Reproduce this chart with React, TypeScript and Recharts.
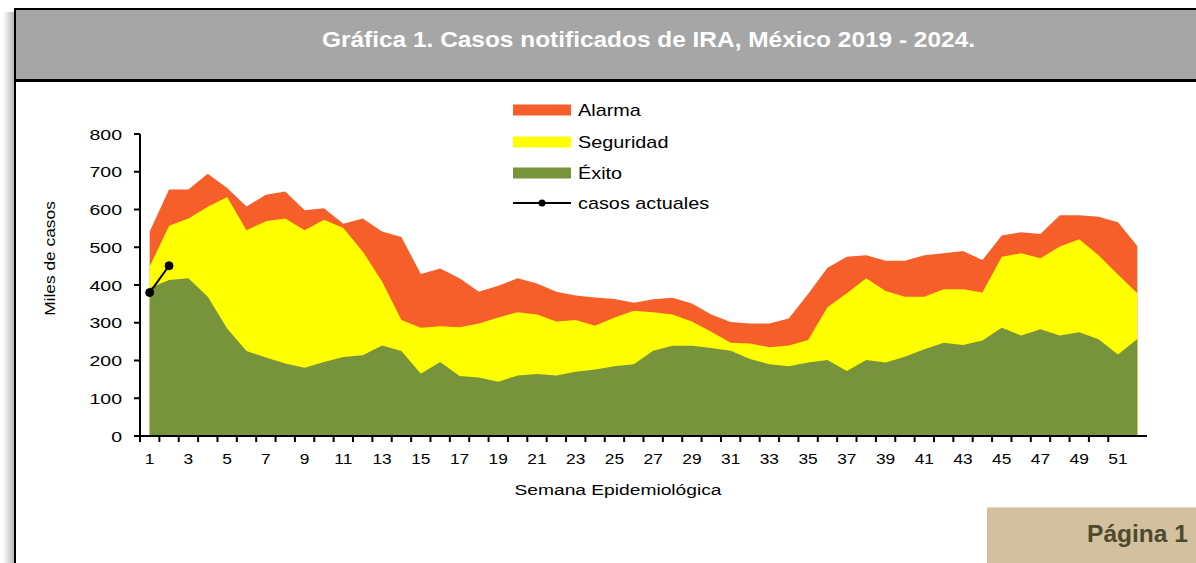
import React from 'react';
import { ComposedChart, Area, Line, XAxis, YAxis, Legend } from 'recharts';

// ---------- data ----------
const weeks = [1,2,3,4,5,6,7,8,9,10,11,12,13,14,15,16,17,18,19,20,21,22,23,24,25,26,27,28,29,30,31,32,33,34,35,36,37,38,39,40,41,42,43,44,45,46,47,48,49,50,51,52];

// upper limit of each zone (miles de casos)
const alarma = [542,653,653,695,657,608,639,648,598,603,562,576,542,527,429,444,418,382,398,418,404,382,372,367,363,353,362,366,351,322,302,298,298,311,376,446,475,479,464,464,479,484,490,466,531,540,535,585,585,581,566,503];
const seguridad = [449,557,576,607,633,545,569,576,545,573,551,489,409,307,287,291,288,298,314,328,322,303,307,292,314,332,328,322,303,276,247,245,235,240,254,341,378,418,384,369,369,389,389,380,475,484,471,502,521,479,428,378];
const exito = [392,413,418,369,285,225,208,192,181,196,209,214,240,225,165,196,159,155,144,160,164,160,170,176,185,190,226,239,239,233,226,204,190,185,195,201,172,201,195,210,230,247,241,253,287,266,283,266,275,256,216,257];
const casosActuales = [380,451];

const yTicks = [0,100,200,300,400,500,600,700,800];
const xLabelTicks = [1,3,5,7,9,11,13,15,17,19,21,23,25,27,29,31,33,35,37,39,41,43,45,47,49,51];

const legendOrder = ['alarma', 'seguridad', 'exito', 'actuales'];
const seriesNames = { alarma: 'Alarma', seguridad: 'Seguridad', exito: 'Éxito', actuales: 'casos actuales' };
const title = 'Gráfica 1. Casos notificados de IRA, México 2019 - 2024.';
const yTitle = 'Miles de casos';
const xTitle = 'Semana Epidemiológica';
const pageLabel = 'Página 1';

const data = weeks.map((w, i) => ({
  week: w,
  alarma: alarma[i],
  seguridad: seguridad[i],
  exito: exito[i],
  actuales: i < casosActuales.length ? casosActuales[i] : null,
}));

const boundaryTicks = weeks.slice(0, 51).map((w) => w - 0.5);
const xTicks = [...boundaryTicks, ...xLabelTicks].sort((a, b) => a - b);

// ---------- style ----------
const FONT = '"Liberation Sans", Arial, sans-serif';
const C_ALARMA = '#F65F2A';
const C_SEG = '#FFFF00';
const C_EXITO = '#77933C';
const SX = 1.24;

const XTick = (props: any) => {
  const { x, y, payload } = props;
  const v = payload.value;
  if (v % 1 !== 0) {
    return <line x1={x} x2={x} y1={y} y2={y + 6} stroke="#000" strokeWidth={2} />;
  }
  return (
    <text transform={`translate(${x},${y + 28}) scale(${SX},1)`} textAnchor="middle" fontSize={14} fontFamily={FONT} fill="#000">
      {v}
    </text>
  );
};

const YTick = (props: any) => {
  const { x, y, payload } = props;
  return (
    <g>
      <line x1={x - 6} x2={x} y1={y} y2={y} stroke="#000" strokeWidth={2} />
      <text transform={`translate(${x - 18},${y + 5.5}) scale(1.3,1)`} textAnchor="end" fontSize={15} fontFamily={FONT} fill="#000">
        {payload.value}
      </text>
    </g>
  );
};

const LegendContent = (props: any) => {
  const payload = (props.payload || []).slice().sort(
    (a: any, b: any) => legendOrder.indexOf(a.dataKey) - legendOrder.indexOf(b.dataKey)
  );
  const rowsY = [15, 47, 78, 108];
  return (
    <svg width={240} height={125} style={{ display: 'block' }}>
      {payload.map((p: any, i: number) => {
        const cy = rowsY[i];
        const isLine = p.dataKey === 'actuales';
        return (
          <g key={i}>
            {isLine ? (
              <g>
                <line x1={8} x2={66} y1={cy} y2={cy} stroke="#000" strokeWidth={2} />
                <circle cx={37} cy={cy} r={3.5} fill="#000" />
              </g>
            ) : (
              <rect x={8} y={cy - 5.5} width={58} height={11} fill={p.color} />
            )}
            <text transform={`translate(73,${cy + 5.7}) scale(${SX},1)`} fontSize={16} fontFamily={FONT} fill="#000">
              {p.value}
            </text>
          </g>
        );
      })}
    </svg>
  );
};

const YLabel = (props: any) => {
  const vb = props.viewBox || { x: 80, y: 134, width: 60, height: 302 };
  const cx = vb.x + vb.width - 85;
  const cy = vb.y + 124.5;
  return (
    <text transform={`translate(${cx},${cy}) rotate(-90) scale(${SX},1)`} textAnchor="middle" fontSize={14} fontFamily={FONT} fill="#000">
      {yTitle}
    </text>
  );
};

export default function App() {
  return (
    <div style={{ position: 'absolute', left: 0, top: 0, width: 1196, height: 563, overflow: 'hidden', background: '#fff', fontFamily: FONT }}>
      {/* left shadow */}
      <div style={{ position: 'absolute', left: 3, top: 12, width: 11, height: 560, background: 'linear-gradient(to right, rgba(0,0,0,0), rgba(0,0,0,0.28))' }} />
      {/* left border */}
      <div style={{ position: 'absolute', left: 14, top: 8, width: 2, height: 570, background: '#000' }} />
      {/* banner */}
      <div style={{ position: 'absolute', left: 14, top: 8, width: 1200, height: 74, background: '#A6A6A6', borderTop: '2px solid #000', borderBottom: '3px solid #000', borderLeft: '2px solid #000', boxSizing: 'border-box' }} />
      <svg width={1196} height={82} style={{ position: 'absolute', left: 0, top: 0 }}>
        <text x={322} y={46.5} textLength={653} lengthAdjust="spacingAndGlyphs" fontSize={22} fontWeight="bold" fontFamily={FONT} fill="#fff">
          {title}
        </text>
      </svg>

      <div style={{ position: 'absolute', left: 0, top: 0 }}>
        <ComposedChart width={1196} height={563} data={data} margin={{ top: 134, right: 49, bottom: 97, left: 80 }}>
          <Area type="linear" dataKey="alarma" name={seriesNames.alarma} stroke="none" fill={C_ALARMA} fillOpacity={1} isAnimationActive={false} dot={false} activeDot={false} legendType="rect" />
          <Area type="linear" dataKey="seguridad" name={seriesNames.seguridad} stroke="none" fill={C_SEG} fillOpacity={1} isAnimationActive={false} dot={false} activeDot={false} legendType="rect" />
          <Area type="linear" dataKey="exito" name={seriesNames.exito} stroke="none" fill={C_EXITO} fillOpacity={1} isAnimationActive={false} dot={false} activeDot={false} legendType="rect" />
          <Line type="linear" dataKey="actuales" name={seriesNames.actuales} stroke="#000" strokeWidth={2} dot={{ r: 4, fill: '#000', stroke: '#000', strokeWidth: 1 }} activeDot={false} connectNulls={false} isAnimationActive={false} legendType="line" />
          <XAxis
            dataKey="week"
            type="number"
            domain={[0.5, 52.5]}
            ticks={xTicks}
            interval={0}
            allowDecimals
            tick={<XTick />}
            tickLine={false}
            tickSize={0}
            tickMargin={0}
            height={30}
            axisLine={{ stroke: '#000', strokeWidth: 2 }}
          />
          <YAxis
            type="number"
            domain={[0, 800]}
            ticks={yTicks}
            interval={0}
            tick={<YTick />}
            tickLine={false}
            tickSize={0}
            tickMargin={0}
            width={60}
            axisLine={{ stroke: '#000', strokeWidth: 2 }}
            label={<YLabel />}
          />
          <Legend
            layout="vertical"
            verticalAlign="middle"
            align="center"
            content={<LegendContent />}
            wrapperStyle={{ position: 'absolute', left: 505, top: 95, width: 240, height: 125 }}
          />
          <text transform={`translate(618,495) scale(${SX},1)`} textAnchor="middle" fontSize={15.5} fontFamily={FONT} fill="#000">
            {xTitle}
          </text>
        </ComposedChart>
      </div>

      {/* page label */}
      <div style={{ position: 'absolute', left: 987, top: 507, width: 209, height: 56, background: '#D3C09E', borderTop: '1px solid #E4D8C2', boxSizing: 'border-box' }} />
      <svg width={1196} height={563} style={{ position: 'absolute', left: 0, top: 0, pointerEvents: 'none' }}>
        <text x={1087} y={542.3} textLength={101} lengthAdjust="spacingAndGlyphs" fontSize={23} fontWeight="bold" fontFamily={FONT} fill="#4F4A2E">
          {pageLabel}
        </text>
      </svg>
    </div>
  );
}
